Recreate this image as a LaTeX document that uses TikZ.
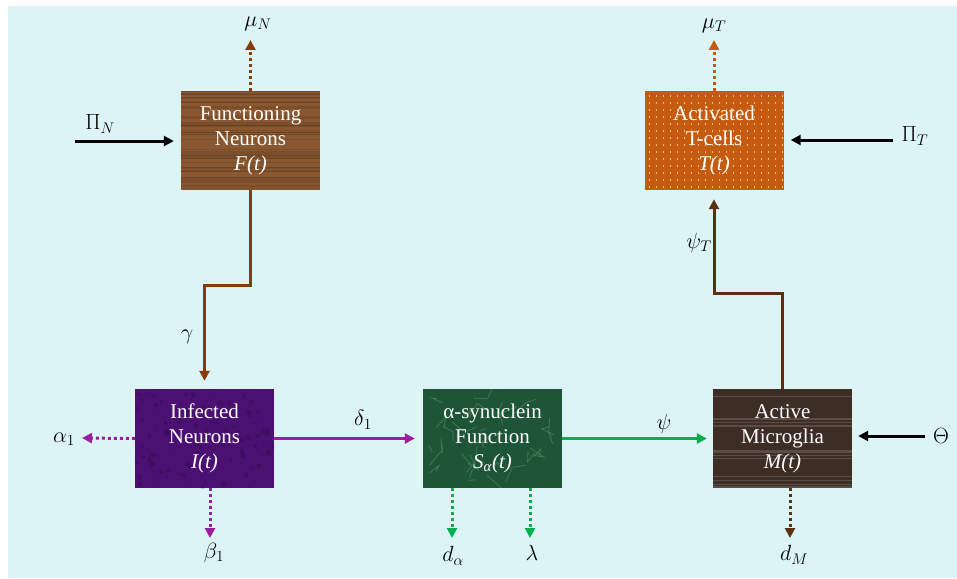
\documentclass[tikz,border=0pt]{standalone}
\usepackage{fix-cm}
\usepackage{fontspec}
\setmainfont{Liberation Serif}
\usetikzlibrary{arrows.meta}

\definecolor{bgcyan}{HTML}{DDF4F7}
\definecolor{woodF}{HTML}{8A5830}
\definecolor{tcell}{HTML}{C55A11}
\definecolor{infect}{HTML}{4B1172}
\definecolor{synuc}{HTML}{1E5536}
\definecolor{micro}{HTML}{3D2E25}
\definecolor{brownline}{HTML}{843C0C}
\definecolor{orangeline}{HTML}{C55A11}
\definecolor{purpleline}{HTML}{9A1E9E}
\definecolor{greenline}{HTML}{00B050}
\definecolor{darkbrown}{HTML}{5A3212}

\tikzset{
    compart/.style={
        rectangle,
        minimum width=139pt,
        minimum height=99pt,
        inner sep=0pt,
        align=center,
        text=white,
        font=\fontsize{21}{25}\selectfont
    }
}
\tikzset{
    grain/.style 2 args={path picture={
        \foreach \k in {1,...,#2}{
            \pgfmathsetmacro\yy{rnd*99}
            \pgfmathsetmacro\ww{0.4+rnd*1.4}
            \draw[#1, line width=\ww pt, opacity=0.25]
                ([yshift=-\yy pt]path picture bounding box.north west) --
                ([yshift=-\yy pt]path picture bounding box.north east);
        }}
    }
}
\tikzset{
    marble/.style={path picture={
        \foreach \k in {1,...,30}{
            \draw[#1, line width=0.8pt, opacity=0.22]
                (path picture bounding box.north west) ++({rnd*139},{rnd*99})
                -- ++({rnd*30-15},{rnd*30-15}) -- ++({rnd*30-15},{rnd*30-15});
        }}
    }
}
\tikzset{
    speckle/.style={path picture={
        \foreach \k in {1,...,120}{
            \fill[#1, opacity=0.15]
                (path picture bounding box.north west) ++({rnd*139},{rnd*99})
                circle ({0.5+rnd*2.5});
        }}
    }
}
\tikzset{
    tdots/.style={path picture={
        \foreach \i in {0,...,19}{
            \foreach \j in {0,...,13}{
                \fill[#1] ([xshift={4+7*\i},yshift={-4-7*\j}]path picture bounding box.north west)
                    rectangle ++(1.6,1.6);
            }}}
    }
}
\tikzset{
    flow/.style={line width=3pt, -{Triangle[length=10pt,width=10pt]}},
    loss/.style={line width=3pt, dash pattern=on 3pt off 3pt,
        -{Triangle[length=10pt,width=10pt]}},
    lab/.style={font=\fontsize{22}{26}\selectfont, inner sep=1pt}
}

\begin{document}
\begin{tikzpicture}[x=1pt,y=-1pt]

    \useasboundingbox (0,0) rectangle (957,578);
    \fill[bgcyan] (8,6) rectangle (957,578);

    \pgfmathsetseed{7}

    % compartments
    \node[compart, fill=woodF, grain={brown!40!black}{45}] (F) at (250.5,140.5)
        {Functioning\\Neurons\\\textit{F(t)}};
    \node[compart, fill=tcell, tdots=orange!55!white] (T) at (714,140.5)
        {Activated\\T-cells\\\textit{T(t)}};
    \node[compart, fill=infect, speckle=black] (I) at (204.5,438.5)
        {Infected\\Neurons\\\textit{I(t)}};
    \node[compart, fill=synuc, marble=green!35!white] (S) at (492.5,438.5)
        {α-synuclein\\Function\\\textit{S}\textsubscript{\textit{α}}\textit{(t)}};
    \node[compart, fill=micro, grain={white!60!micro}{12}] (M) at (782.5,438.5)
        {Active\\Microglia\\\textit{M(t)}};

    % labels
    \node[lab] (muN) at (258,24) {$\mu_N$};
    \node[lab] (muT) at (714,26) {$\mu_T$};
    \node[lab] (piN) at (100,124) {$\Pi_N$};
    \node[lab] (piT) at (915,136) {$\Pi_T$};
    \node[lab] (gam) at (187,337) {$\gamma$};
    \node[lab] (psiT) at (699,243) {$\psi_T$};
    \node[lab] (del) at (363,420) {$\delta_1$};
    \node[lab] (psi) at (664,424) {$\psi$};
    \node[lab] (theta) at (941,436) {$\Theta$};
    \node[lab] (alp) at (64,439) {$\alpha_1$};
    \node[lab] (bet) at (214,553) {$\beta_1$};
    \node[lab] (dal) at (453,556) {$d_\alpha$};
    \node[lab] (lam) at (532,553) {$\lambda$};
    \node[lab] (dM) at (794,555) {$d_M$};

    % free ends
    \coordinate (muNend) at (250.5,40);
    \coordinate (muTend) at (714,40);
    \coordinate (piNstart) at (75,141);
    \coordinate (piTstart) at (893,140);
    \coordinate (thetastart) at (925,436);
    \coordinate (alpend) at (82,438);
    \coordinate (betend) at (210,538);
    \coordinate (dalend) at (452,538);
    \coordinate (lamend) at (530,538);
    \coordinate (dMend) at (790,538);

    % transfers
    \draw[flow, brownline, shorten >=8pt] (F.south) -- ++(0,95) -| (I.north);
    \draw[flow, darkbrown, shorten >=9pt] (M.north) -- ++(0,-95) -| (T.south);
    \draw[flow, purpleline, shorten >=8pt] (I.east) -- (S.west);
    \draw[flow, greenline, shorten >=6pt] (S.east) -- (M.west);

    % inflows
    \draw[flow, black, shorten >=7pt] (piNstart) -- (F.west |- piNstart);
    \draw[flow, black, shorten >=7pt] (piTstart) -- (T.east |- piTstart);
    \draw[flow, black, shorten >=6pt] (thetastart) -- (M.east |- thetastart);

    % losses
    \draw[loss, brownline] (F.north) -- (muNend);
    \draw[loss, orangeline] (T.north) -- (muTend);
    \draw[loss, purpleline] (I.west) -- (alpend);
    \draw[loss, purpleline] (I.south -| betend) -- (betend);
    \draw[loss, greenline] (S.south -| dalend) -- (dalend);
    \draw[loss, greenline] (S.south -| lamend) -- (lamend);
    \draw[loss, darkbrown] (M.south -| dMend) -- (dMend);

\end{tikzpicture}
\end{document}
